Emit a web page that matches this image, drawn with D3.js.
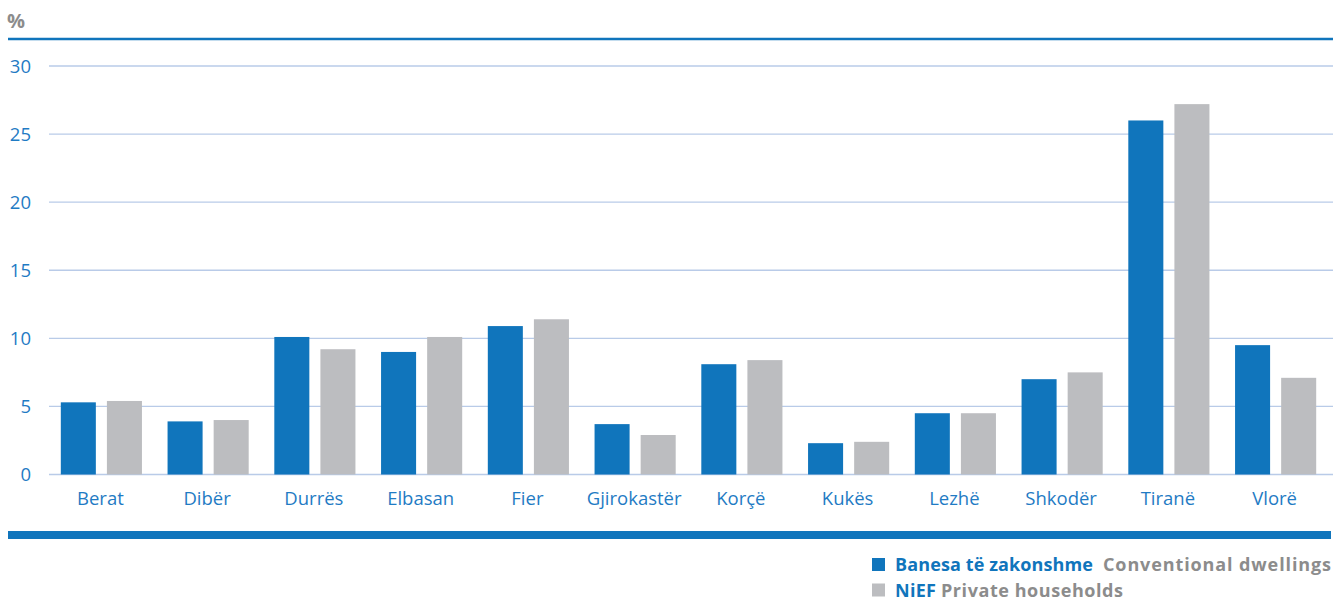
<!DOCTYPE html>
<html>
<head>
<meta charset="utf-8">
<script src="https://cdn.jsdelivr.net/npm/d3@7/dist/d3.min.js"></script>
<style>
  html, body { margin: 0; padding: 0; background: #fff; }
  svg { display: block; }
  text { font-family: "Open Sans", sans-serif; }
</style>
</head>
<body>
<svg id="chart" width="1333" height="602"></svg>
<script>
const categories = ["Berat", "Dibër", "Durrës", "Elbasan", "Fier", "Gjirokastër", "Korçë", "Kukës", "Lezhë", "Shkodër", "Tiranë", "Vlorë"];
const seriesKeys = ["conventional", "households"];
const conventionalDwellings = [5.3, 3.9, 10.1, 9.0, 10.9, 3.7, 8.1, 2.3, 4.5, 7.0, 26.0, 9.5];
const privateHouseholds = [5.4, 4.0, 9.2, 10.1, 11.4, 2.9, 8.4, 2.4, 4.5, 7.5, 27.2, 7.1];
const yTicks = [0, 5, 10, 15, 20, 25, 30];

const BLUE = "#1075bc";
const GRAY = "#bcbdc0";
const GRID = "#b9cbe8";
const TXTGRAY = "#8c8c8c";

const svg = d3.select("#chart");

const data = categories.map((c, i) => ({
  cat: c,
  values: [
    { key: "conventional", v: conventionalDwellings[i] },
    { key: "households", v: privateHouseholds[i] }
  ]
}));

const y = d3.scaleLinear().domain([0, 30]).range([474.5, 66]);
const x0 = d3.scaleBand().domain(categories).range([48, 1329]).paddingInner(0.24).paddingOuter(0.12);
const x1 = d3.scaleBand().domain(seriesKeys).range([0, x0.bandwidth()]).paddingInner(0.24).paddingOuter(0);
const color = d3.scaleOrdinal().domain(seriesKeys).range([BLUE, GRAY]);

// top rule
svg.append("line").attr("x1", 8).attr("x2", 1333).attr("y1", 39).attr("y2", 39)
  .attr("stroke", BLUE).attr("stroke-width", 2.5);

// % label
svg.append("text").attr("x", 7).attr("y", 28).text("%")
  .attr("fill", TXTGRAY).attr("font-weight", "bold").attr("font-size", 20);

// y axis labels
const yAxis = d3.axisLeft(y).tickValues(yTicks).tickSize(0).tickPadding(0);
const gy = svg.append("g").attr("transform", "translate(31,0)").call(yAxis);
gy.select(".domain").remove();
gy.selectAll("text").attr("fill", "#1f7bc4").attr("font-size", 18.5)
  .attr("font-family", "'Open Sans', sans-serif").attr("dy", "0.35em");

// gridlines
svg.append("g").selectAll("line").data(yTicks).join("line")
  .attr("x1", 49).attr("x2", 1333)
  .attr("y1", d => y(d)).attr("y2", d => y(d))
  .attr("stroke", GRID).attr("stroke-width", 1.3);

// bars
const groups = svg.append("g").selectAll("g").data(data).join("g")
  .attr("transform", d => `translate(${x0(d.cat)},0)`);
groups.selectAll("rect").data(d => d.values).join("rect")
  .attr("x", d => x1(d.key))
  .attr("width", x1.bandwidth())
  .attr("y", d => y(d.v))
  .attr("height", d => y(0) - y(d.v))
  .attr("fill", d => color(d.key));

// category axis
const xAxis = d3.axisBottom(x0).tickSize(0).tickPadding(0);
const gx = svg.append("g").attr("transform", "translate(-1,505)").call(xAxis);
gx.select(".domain").remove();
gx.selectAll("text").attr("fill", "#1f7bc4").attr("font-size", 18.5)
  .attr("font-family", "'Open Sans', sans-serif").attr("dy", 0);

// bottom rule
svg.append("rect").attr("x", 8).attr("y", 531).attr("width", 1323).attr("height", 8).attr("fill", BLUE);

// legend
const legendItems = [
  { key: "conventional", sq: "Banesa të zakonshme", sqLen: 198, en: "Conventional dwellings", enX: 1103, enLen: 228, y: 571 },
  { key: "households", sq: "NiEF", sqLen: 41, en: "Private households", enX: 941, enLen: 182, y: 596.5 }
];
const lg = svg.append("g");
legendItems.forEach(it => {
  lg.append("rect").attr("x", 872).attr("y", it.y - 13).attr("width", 13).attr("height", 13).attr("fill", color(it.key));
  lg.append("text").attr("x", 895).attr("y", it.y).attr("font-size", 18).attr("font-weight", "bold")
    .attr("fill", BLUE).attr("textLength", it.sqLen).attr("lengthAdjust", "spacing").text(it.sq);
  lg.append("text").attr("x", it.enX).attr("y", it.y).attr("font-size", 18).attr("font-weight", "bold")
    .attr("fill", TXTGRAY).attr("textLength", it.enLen).attr("lengthAdjust", "spacing").text(it.en);
});
</script>
</body>
</html>
